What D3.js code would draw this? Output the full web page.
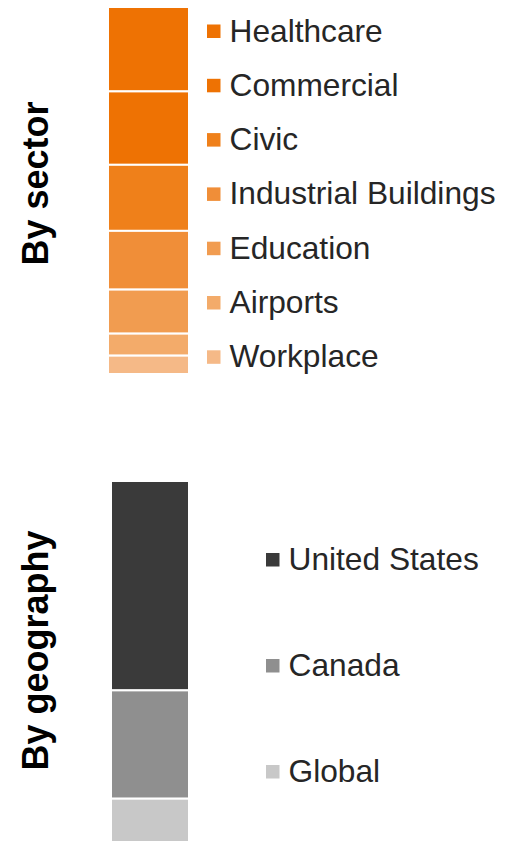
<!DOCTYPE html>
<html>
<head>
<meta charset="utf-8">
<script src="https://cdn.jsdelivr.net/npm/d3@7"></script>
<style>
  html, body { margin: 0; padding: 0; background: #fff; }
  svg { display: block; font-family: "Liberation Sans", Arial, sans-serif; }
</style>
</head>
<body>
<div id="chart"></div>
<script>
// share of projects, stacked single bars
const sectorNames = ['Healthcare', 'Commercial', 'Civic', 'Industrial Buildings', 'Education', 'Airports', 'Workplace'];
const sectorValues = [23, 20, 18, 16, 12, 6, 5];
const sectorColors = ['#ee7203', '#ee7203', '#ef801a', '#f08e38', '#f19c50', '#f3ab6a', '#f5b987'];

const geoNames = ['United States', 'Canada', 'Global'];
const geoValues = [58, 30, 12];
const geoColors = ['#3a3a3a', '#8f8f8f', '#c8c8c8'];

const W = 528, H = 842;

const svg = d3.select('#chart').append('svg')
  .attr('width', W).attr('height', H);

function panel(opts) {
  const { names, values, colors, x0, x1, y0, y1, legX, legY0, legStep, title, titleY } = opts;
  const g = svg.append('g');

  const total = d3.sum(values);
  const y = d3.scaleLinear().domain([0, total]).range([y0, y1]);
  const ends = Array.from(d3.cumsum(values));
  const segs = values.map((v, i) => ({ name: names[i], start: ends[i] - v, end: ends[i], color: colors[i] }));

  // bar segments, white stroke makes the gaps
  g.selectAll('rect.seg').data(segs).join('rect')
    .attr('class', 'seg')
    .attr('x', x0).attr('width', x1 - x0)
    .attr('y', d => y(d.start))
    .attr('height', d => y(d.end) - y(d.start))
    .attr('fill', d => d.color)
    .attr('stroke', '#fff').attr('stroke-width', 2);

  // legend
  const leg = g.selectAll('g.leg').data(segs).join('g')
    .attr('class', 'leg')
    .attr('transform', (d, i) => `translate(${legX},${legY0 + i * legStep})`);
  leg.append('rect')
    .attr('x', 0).attr('y', -6.5).attr('width', 13.5).attr('height', 13.5)
    .attr('fill', d => d.color);
  leg.append('text')
    .attr('x', 22.5).attr('y', 10.5)
    .attr('fill', '#262626')
    .style('font-size', '31.7px')
    .text(d => d.name);

  // rotated side title
  g.append('text')
    .attr('transform', `translate(48,${titleY}) rotate(-90)`)
    .attr('text-anchor', 'middle')
    .attr('fill', '#000')
    .style('font-size', '36px').style('font-weight', 'bold')
    .text(title);
}

panel({
  names: sectorNames, values: sectorValues, colors: sectorColors,
  x0: 108, x1: 189, y0: 7, y1: 374,
  legX: 207, legY0: 31, legStep: 54.3,
  title: 'By sector', titleY: 183.5
});

panel({
  names: geoNames, values: geoValues, colors: geoColors,
  x0: 111, x1: 189, y0: 481, y1: 842,
  legX: 266, legY0: 559.5, legStep: 106,
  title: 'By geography', titleY: 650.5
});
</script>
</body>
</html>
